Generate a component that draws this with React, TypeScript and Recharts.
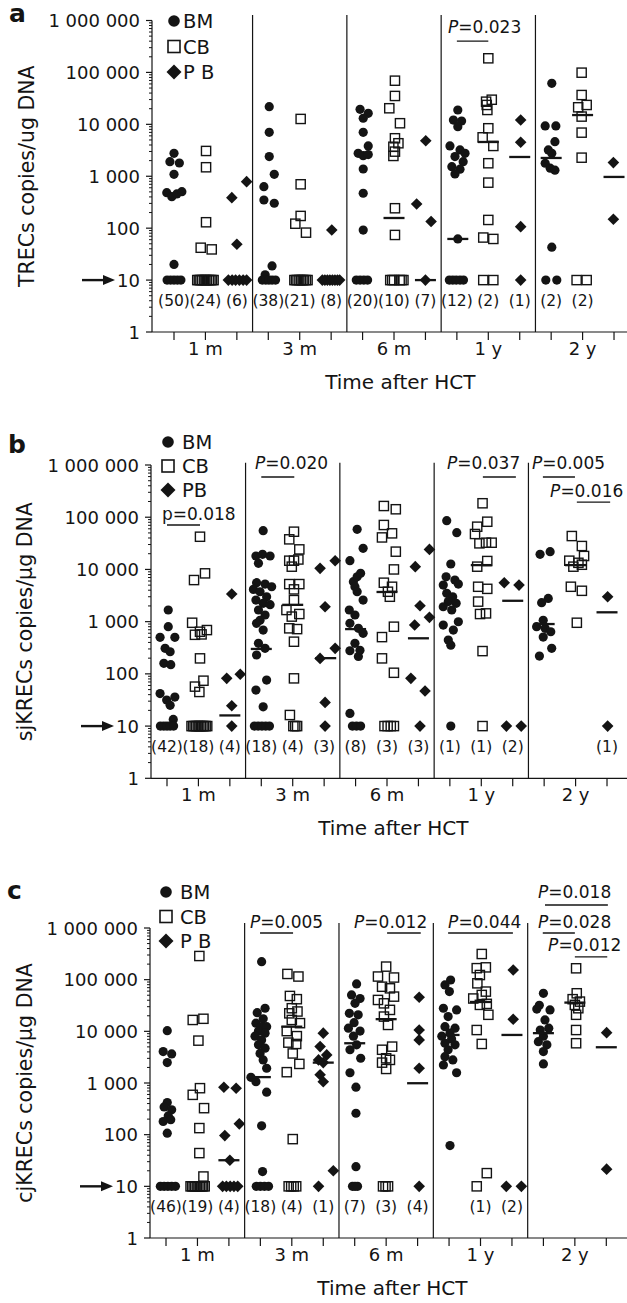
import React from 'react';
import { ScatterChart, Scatter, XAxis, YAxis, ReferenceLine, ReferenceDot, Legend } from 'recharts';

type Pt = [number, number];

const INK = '#141414';
const FONT = '"DejaVu Sans", "Liberation Sans", Arial, sans-serif';

// x is in column units: 0-2 = 1 m (BM, CB, PB), 3-5 = 3 m, 6-8 = 6 m, 9-11 = 1 y, 12-14 = 2 y
const colTicks = [0, 1, 2, 3, 4, 5, 6, 7, 8, 9, 10, 11, 12, 13, 14];
const timeLabels = ['1 m', '3 m', '6 m', '1 y', '2 y'];
const timeLabelCols = [1, 4, 7, 10, 13];
const groupSeparators = [2.5, 5.5, 8.5, 11.5];
const yMajor = [1, 10, 100, 1000, 10000, 100000, 1000000];
const yMajorLabels = ['1', '10', '100', '1 000', '10 000', '100 000', '1 000 000'];
const yMinor = yMajor.slice(0, -1).flatMap(d => [2, 3, 4, 5, 6, 7, 8, 9].map(m => d * m));
const yTicks = [...yMajor, ...yMinor].sort((a, b) => a - b);

// ---------- a: TRECs ----------
const trecBM: Pt[] = [
  [0.0, 2770], [-0.13, 1910], [0.17, 1800], [0.0, 1090], [-0.23, 483], [-0.07, 404], [0.09, 456], [0.25, 505], [0.0, 20],
  [-0.22, 10], [-0.11, 10], [0, 10], [0.11, 10], [0.22, 10],
  [3.03, 21900], [3.03, 7030], [3.03, 2390], [3.19, 1090], [2.86, 630], [2.86, 349], [3.19, 302], [3.12, 18.7], [2.9, 12.6],
  [2.81, 10], [2.92, 10], [3.02, 10], [3.12, 10], [3.23, 10],
  [5.92, 19500], [6.18, 16300], [6.02, 13100], [6.02, 7030], [5.86, 2770], [6.18, 3830], [6.02, 2490], [6.18, 2620], [6.02, 1380], [6.02, 470], [6.02, 92],
  [5.8, 10], [5.92, 10], [6.04, 10], [6.16, 10],
  [9.03, 18900], [8.89, 12100], [9.15, 11600], [9.03, 9020], [8.78, 3830], [9.1, 3210], [9.26, 2770], [8.94, 2390], [9.2, 1910], [8.84, 1530], [9.1, 1370], [8.94, 1110], [9.03, 62],
  [8.76, 10], [8.87, 10], [8.98, 10], [9.1, 10], [9.21, 10],
  [12.02, 61700], [11.81, 9300], [12.15, 9300], [12.12, 4640], [11.91, 3210], [12.02, 2770], [11.81, 1780], [11.97, 1430], [12.12, 1310], [12.02, 43],
  [11.83, 10], [12.18, 10],
];
const trecCB: Pt[] = [
  [1.02, 3070], [1.02, 1490], [1.02, 130], [0.85, 42], [1.2, 39],
  [0.74, 10], [0.79, 10], [0.84, 10], [0.89, 10], [0.95, 10], [1.0, 10], [1.05, 10], [1.11, 10], [1.16, 10], [1.21, 10], [1.26, 10],
  [4.03, 12700], [4.03, 700], [4.03, 172], [3.86, 122], [4.2, 82],
  [3.83, 10], [3.88, 10], [3.93, 10], [3.99, 10], [4.04, 10], [4.09, 10], [4.14, 10], [4.2, 10], [4.25, 10],
  [7.03, 69300], [7.03, 35200], [6.85, 20400], [7.19, 10500], [7.03, 5390], [7.14, 4320], [6.98, 3700], [7.03, 2980], [6.98, 2460], [7.03, 242], [7.03, 74],
  [6.88, 10], [6.94, 10], [7.0, 10], [7.18, 10], [7.24, 10], [7.3, 10],
  [10.0, 187000], [9.93, 27300], [10.11, 29800], [9.95, 23600], [9.97, 18900], [10.0, 8400], [9.82, 5620], [10.16, 3830], [10.0, 1780], [10.0, 753], [10.0, 144], [9.84, 66], [10.16, 62],
  [9.84, 10], [10.16, 10],
  [12.97, 98900], [12.97, 36700], [12.86, 21300], [13.13, 23600], [12.97, 14100], [12.97, 6920], [12.97, 2280],
  [12.81, 10], [13.13, 10],
];
const trecPB: Pt[] = [
  [1.84, 387], [2.31, 787], [2.0, 49],
  [1.73, 10], [1.85, 10], [1.96, 10], [2.08, 10], [2.2, 10], [2.31, 10],
  [5.02, 92],
  [4.72, 10], [4.8, 10], [4.88, 10], [4.96, 10], [5.04, 10], [5.12, 10], [5.2, 10], [5.27, 10],
  [8.01, 4840], [7.72, 293], [8.18, 134], [8.0, 10],
  [11.03, 12100], [11.03, 4520], [11.03, 107], [11.03, 10],
  [13.98, 1830], [13.98, 149],
];
const trecMedians: Pt[] = [[9.03, 62], [12, 2250], [7, 157], [10, 4570], [13, 15100], [8, 10], [11, 2350], [14, 970]];
const trecCounts = ['(50)', '(24)', '(6)', '(38)', '(21)', '(8)', '(20)', '(10)', '(7)', '(12)', '(2)', '(1)', '(2)', '(2)', ''];
const trecP = [{ label: 'P=0.023', x1: 9, x2: 10, lineY: 400000, tx: 8.72, ty: 570000 }];

// ---------- b: sjKRECs ----------
const sjBM: Pt[] = [
  [0.04, 1670], [0.04, 800], [-0.22, 500], [0.25, 500], [-0.06, 308], [0.1, 265], [-0.1, 159], [0.12, 150], [-0.22, 42], [-0.01, 31.5], [0.25, 36], [0.1, 25], [0.2, 13.4],
  [-0.21, 10], [-0.1, 10], [0, 10], [0.1, 10], [0.21, 10],
  [3.06, 55200], [2.83, 18100], [3.04, 19500], [3.28, 18100], [2.91, 13100], [2.85, 5570], [3.12, 5240], [2.75, 4150], [3.33, 4660], [2.96, 3740], [3.17, 3000], [2.83, 2590],
  [3.06, 2240], [3.28, 2110], [2.91, 1670], [3.12, 1340], [2.96, 1060], [2.85, 927], [3.06, 690], [2.91, 384], [3.12, 308], [2.85, 230], [3.17, 76], [2.83, 49], [3.06, 23.4],
  [2.78, 10], [2.9, 10], [3.02, 10], [3.14, 10], [3.26, 10],
  [6.05, 58700], [6.24, 25400], [5.82, 14700], [5.93, 5820], [6.05, 7220], [5.98, 4660], [6.16, 8410], [6.05, 3740], [6.24, 2590], [5.8, 1670], [5.98, 1340], [5.82, 927],
  [6.09, 745], [6.24, 597], [5.98, 384], [5.82, 277], [6.09, 215], [6.14, 283], [5.82, 17.5],
  [5.9, 10], [6.03, 10], [6.16, 10],
  [8.9, 85700], [9.22, 50500], [9.03, 12700], [8.88, 7220], [9.16, 6260], [8.79, 5010], [9.27, 5240], [8.9, 3480], [9.09, 3000], [8.95, 2420], [9.2, 2240], [8.79, 1930],
  [9.06, 1670], [9.27, 995], [8.79, 861], [9.11, 690], [8.95, 444], [9.03, 355], [9.03, 10],
  [11.87, 19500], [12.19, 21900], [12.13, 2790], [11.92, 2310], [11.97, 1060], [11.76, 800], [12.03, 745], [12.21, 641], [11.97, 506], [12.24, 308], [11.85, 219],
];
const sjCB: Pt[] = [
  [1.05, 42300], [0.86, 6260], [1.21, 8410], [0.8, 953], [1.05, 641], [1.27, 690], [0.89, 560], [1.1, 570], [1.05, 198], [1.16, 74], [0.89, 57], [1.03, 45],
  [0.78, 10], [0.83, 10], [0.88, 10], [0.93, 10], [0.98, 10], [1.03, 10], [1.08, 10], [1.13, 10], [1.18, 10], [1.23, 10], [1.28, 10],
  [4.04, 52800], [3.89, 37700], [4.21, 24200], [3.89, 14700], [4.04, 14700], [4.18, 15500], [3.97, 11300], [3.89, 5240], [4.21, 5240], [4.04, 4150], [4.04, 2590],
  [3.8, 1670], [4.21, 1400], [3.97, 1250], [3.89, 745], [4.14, 720], [4.04, 413], [4.04, 82], [3.91, 16.3],
  [4.02, 10], [4.08, 10], [4.14, 10],
  [6.9, 164000], [7.28, 142000], [6.9, 71000], [7.16, 49100], [6.84, 41000], [7.28, 21900], [7.22, 10000], [6.9, 5570], [7.16, 4660], [7.03, 3740], [7.09, 3000],
  [7.22, 800], [6.84, 506], [6.84, 198], [7.22, 105],
  [6.92, 10], [7.02, 10], [7.12, 10], [7.22, 10],
  [10.04, 185000], [10.19, 82000], [9.87, 65800], [9.8, 47700], [9.94, 31600], [10.15, 32500], [10.33, 32500], [10.19, 14500], [9.87, 11300], [9.9, 4660], [10.19, 4250],
  [9.9, 2420], [9.96, 1400], [10.15, 1440], [10.04, 273], [10.04, 10],
  [12.88, 43600], [13.2, 28100], [13.27, 18100], [12.8, 14700], [13.09, 13400], [12.93, 11300], [13.2, 12300], [12.85, 4660], [13.2, 3900], [13.04, 953],
];
const sjPB: Pt[] = [
  [2.06, 3380], [2.33, 98], [1.9, 82], [2.06, 24.5], [2.06, 10],
  [4.87, 10500], [5.35, 14700], [5.03, 1930], [5.35, 308], [4.87, 198], [5.03, 28.4], [5.03, 10],
  [8.35, 24200], [7.9, 11300], [8.05, 2020], [8.35, 1210], [7.88, 861], [7.76, 82], [8.21, 47], [8.05, 10],
  [10.73, 5570], [11.2, 5010], [10.8, 10], [11.27, 10],
  [14.02, 3000], [14.02, 10],
];
const sjMedians: Pt[] = [
  [3, 300], [6, 720], [12, 900], [4, 2100], [7, 3700], [10, 12100], [13, 12100],
  [2, 16], [5.05, 200], [8, 480], [11, 2510], [14, 1510],
];
const sjCounts = ['(42)', '(18)', '(4)', '(18)', '(4)', '(3)', '(8)', '(3)', '(3)', '(1)', '(1)', '(2)', '', '', '(1)'];
const sjP = [
  { label: 'p=0.018', x1: 0, x2: 1.05, lineY: 71000, tx: -0.16, ty: 88300 },
  { label: 'P=0.020', x1: 3, x2: 4.05, lineY: 589000, tx: 2.8, ty: 838000 },
  { label: 'P=0.037', x1: 10.05, x2: 11.1, lineY: 589000, tx: 8.91, ty: 838000 },
  { label: 'P=0.005', x1: 11.96, x2: 12.98, lineY: 589000, tx: 11.61, ty: 838000 },
  { label: 'P=0.016', x1: 13.04, x2: 14.1, lineY: 195000, tx: 12.19, ty: 244000 },
];

// ---------- c: cjKRECs ----------
const cjBM: Pt[] = [
  [0.04, 10300], [-0.09, 4050], [0.18, 3650], [0.04, 2480], [0.04, 418], [-0.06, 345], [0.18, 302], [0.07, 231], [-0.09, 180], [0.15, 195], [0.04, 107],
  [-0.18, 10], [-0.06, 10], [0.06, 10], [0.18, 10], [0.3, 10],
  [3.04, 223000], [3.15, 28000], [2.9, 23000], [3.09, 17500], [2.86, 14400], [3.04, 12300], [3.2, 12300], [2.94, 10100], [3.15, 9220], [2.83, 8070], [3.04, 6820],
  [2.94, 5470], [3.15, 4730], [2.99, 3730], [3.09, 2800], [3.2, 1930], [2.7, 1290], [2.86, 1060], [3.2, 664], [3.04, 148], [3.07, 19.3],
  [2.87, 10], [3.0, 10], [3.13, 10], [3.26, 10],
  [6.06, 82600], [5.9, 50600], [6.17, 43200], [6.01, 34800], [5.83, 22300], [6.11, 20900], [5.98, 14700], [5.8, 11500], [6.17, 10100], [5.96, 8070], [6.06, 5470],
  [5.85, 4400], [6.19, 3010], [5.85, 1580], [6.04, 830], [6.04, 260], [6.04, 24],
  [5.93, 10], [6.01, 10], [6.09, 10],
  [9.05, 98600], [8.87, 79000], [9.01, 58800], [8.82, 28000], [9.24, 26000], [8.97, 19300], [8.87, 12300], [9.19, 11500], [9.03, 9260], [8.77, 8070], [9.08, 7100],
  [8.87, 5880], [9.19, 5470], [8.97, 4400], [8.87, 3230], [9.12, 2800], [8.82, 2230], [9.24, 1580], [9.03, 61.5],
  [12.0, 54500], [11.87, 32000], [12.21, 26000], [11.79, 27000], [12.05, 16600], [11.9, 10600], [12.17, 11500], [12.0, 8070], [11.84, 6320], [12.11, 5470], [12.0, 4050], [12.0, 2340],
];
const cjCB: Pt[] = [
  [1.06, 287000], [0.85, 16600], [1.19, 17500], [1.03, 6610], [1.08, 794], [0.85, 590], [1.21, 326], [1.06, 134], [1.06, 44], [1.19, 15.5],
  [0.78, 10], [0.83, 10], [0.88, 10], [0.93, 10], [0.98, 10], [1.03, 10], [1.08, 10], [1.13, 10], [1.18, 10], [1.23, 10],
  [3.86, 129000], [4.21, 115000], [3.94, 48400], [4.16, 41900], [4.0, 28000], [3.92, 22300], [4.18, 24200], [4.0, 16600], [4.26, 14400], [3.84, 10100], [4.16, 8070],
  [3.89, 6050], [4.14, 5700], [4.03, 3730], [4.24, 2340], [3.84, 1620], [4.03, 82],
  [3.9, 10], [3.98, 10], [4.06, 10], [4.14, 10],
  [7.0, 179000], [6.74, 115000], [7.25, 110000], [6.87, 73000], [7.12, 68000], [6.74, 40500], [7.25, 47000], [6.93, 34800], [7.12, 26000], [6.93, 19300], [7.06, 13300],
  [6.87, 4400], [7.19, 5060], [7.0, 3010], [6.87, 2480], [7.12, 2800], [7.0, 1870],
  [6.9, 10], [6.98, 10], [7.06, 10],
  [10.04, 314000], [9.88, 167000], [10.17, 173000], [9.98, 123000], [9.9, 85000], [10.17, 58800], [9.77, 43200], [10.04, 50600], [9.98, 32500], [10.2, 34000],
  [10.25, 20900], [9.88, 10600], [10.04, 5700], [10.2, 18], [9.88, 10],
  [13.04, 166000], [13.06, 54500], [12.93, 41900], [13.16, 37600], [13.0, 32500], [13.11, 28000], [13.04, 20900], [13.04, 10600], [13.04, 5880],
];
const cjPB: Pt[] = [
  [1.84, 830], [2.23, 790], [2.33, 162], [1.87, 96], [2.03, 32],
  [1.8, 10], [1.92, 10], [2.04, 10], [2.16, 10], [2.28, 10],
  [5.0, 9220], [4.9, 5060], [5.11, 3500], [4.85, 2800], [5.0, 2480], [4.9, 1440], [5.0, 1060], [5.32, 20], [4.85, 10],
  [8.05, 45600], [8.05, 10600], [8.05, 6820], [8.05, 1930], [8.05, 10],
  [11.04, 154000], [11.04, 17100], [10.82, 10], [11.3, 10],
  [14.01, 9440], [14.01, 21.5],
];
const cjMedians: Pt[] = [
  [3, 1300], [6, 5880], [9, 8510], [12, 9220], [4, 12300], [7, 17200], [10, 37000], [13, 36000],
  [2, 32], [5, 2480], [8, 990], [11, 8510], [14, 4920],
];
const cjCounts = ['(46)', '(19)', '(4)', '(18)', '(4)', '(1)', '(7)', '(3)', '(4)', '', '(1)', '(2)', '', '', ''];
const cjP = [
  { label: 'P=0.005', x1: 2.99, x2: 4.04, lineY: 800000, tx: 2.67, ty: 1000000 },
  { label: 'P=0.012', x1: 7.03, x2: 8.1, lineY: 800000, tx: 5.98, ty: 1000000 },
  { label: 'P=0.044', x1: 8.97, x2: 11.03, lineY: 800000, tx: 8.97, ty: 1000000 },
  { label: 'P=0.018', x1: 12.05, x2: 14.05, lineY: 2790000, tx: 11.83, ty: 3800000 },
  { label: 'P=0.028', x1: 11.98, x2: 13.0, lineY: 800000, tx: 11.83, ty: 1000000 },
  { label: 'P=0.012', x1: 13.0, x2: 14.03, lineY: 275000, tx: 12.15, ty: 359000 },
];

const COUNT_Y = 4;
const AXIS_H = 60;

const panels = [
  {
    letter: 'a', title: 'TRECs copies/ug DNA', legendLabels: ['BM', 'CB', 'P B'],
    bm: trecBM, cb: trecCB, pb: trecPB, medians: trecMedians, counts: trecCounts, pvals: trecP,
    geo: {
      top: 0, height: 420, margin: { top: 20.5, right: 0, bottom: 28, left: 0 }, yWidth: 152,
      xDomain: [-0.7, 14.413], sepTop: 1280000, titleX: 27,
      legend: { left: 163, top: 10, gap: 25.5, textX: 20 }, letterPos: [9, 22],
    },
  },
  {
    letter: 'b', title: 'sjKRECs copies/µg DNA', legendLabels: ['BM', 'CB', 'PB'],
    bm: sjBM, cb: sjCB, pb: sjPB, medians: sjMedians, counts: sjCounts, pvals: sjP,
    geo: {
      top: 420, height: 440, margin: { top: 45, right: 0, bottom: 21.7, left: 0 }, yWidth: 151,
      xDomain: [-0.509, 14.636], sepTop: 1100000, titleX: 25,
      legend: { left: 157, top: 11, gap: 24, textX: 25 }, letterPos: [8, 33],
    },
  },
  {
    letter: 'c', title: 'cjKRECs copies/µg DNA', legendLabels: ['BM', 'CB', 'P B'],
    bm: cjBM, cb: cjCB, pb: cjPB, medians: cjMedians, counts: cjCounts, pvals: cjP,
    geo: {
      top: 860, height: 443, margin: { top: 68, right: 0, bottom: 5, left: 0 }, yWidth: 150,
      xDomain: [-0.509, 14.658], sepTop: 1250000, titleX: 25,
      legend: { left: 155, top: 21, gap: 24.5, textX: 25 }, letterPos: [7, 39],
    },
  },
];

const toXY = (pts: Pt[]) => pts.map(([x, y]) => ({ x, y }));

const Dot = (p: any) => <circle cx={p.cx} cy={p.cy} r={4.6} fill={INK} />;
const Box = (p: any) => (
  <rect x={p.cx - 4.6} y={p.cy - 4.6} width={9.2} height={9.2} fill="none" stroke={INK} strokeWidth={1.4} />
);
const diamondPts = (cx: number, cy: number, r: number) => `${cx},${cy - r} ${cx + r},${cy} ${cx},${cy + r} ${cx - r},${cy}`;
const Diamond = (p: any) => <polygon points={diamondPts(p.cx, p.cy, 5.8)} fill={INK} />;
const MedianBar = (p: any) => (
  <line x1={p.cx - 10.5} x2={p.cx + 10.5} y1={p.cy} y2={p.cy} stroke={INK} strokeWidth={2.3} />
);
const CountText = (p: any) => (
  <text x={p.cx} y={p.cy + 5.5} textAnchor="middle" fontSize={15.5} fill={INK} fontFamily={FONT}>
    {p.payload?.label ?? p.label}
  </text>
);

const PText = ({ cx, cy, text }: { cx: number; cy: number; text: string }) => (
  <text x={cx} y={cy} fontSize={17} fill={INK} fontFamily={FONT}>
    {text[0] === 'P' ? (
      <>
        <tspan fontStyle="italic">P</tspan>
        {text.slice(1)}
      </>
    ) : (
      text
    )}
  </text>
);

const YTick = (p: any) => {
  const v = p.payload.value;
  const x = p.x;
  const y = p.y;
  const mi = yMajor.indexOf(v);
  if (mi < 0) return <line x1={x - 3} x2={x} y1={y} y2={y} stroke={INK} strokeWidth={1} />;
  return (
    <g>
      <line x1={x - 6} x2={x} y1={y} y2={y} stroke={INK} strokeWidth={1.2} />
      <text x={x - 12} y={y + 6.5} textAnchor="end" fontSize={18} fill={INK} fontFamily={FONT}>
        {yMajorLabels[mi]}
      </text>
      {v === 10 && (
        <g>
          <line x1={x - 70} x2={x - 47} y1={y} y2={y} stroke={INK} strokeWidth={2.4} />
          <polygon points={`${x - 37},${y} ${x - 49},${y - 5} ${x - 49},${y + 5}`} fill={INK} />
        </g>
      )}
    </g>
  );
};

const XTick = (p: any) => {
  const i = timeLabelCols.indexOf(p.payload.value);
  if (i < 0) return <g />;
  return (
    <text x={p.x} y={p.y + 15} textAnchor="middle" fontSize={18} fill={INK} fontFamily={FONT}>
      {timeLabels[i]}
    </text>
  );
};

const LegendBox = ({ labels, gap, textX }: { labels: string[]; gap: number; textX: number }) => (
  <svg width={80} height={gap * 2 + 24} style={{ display: 'block', overflow: 'visible' }}>
    {labels.map((t, i) => {
      const cy = 11 + i * gap;
      const cx = 11;
      const marker =
        i === 0 ? (
          <circle cx={cx} cy={cy} r={5.8} fill={INK} />
        ) : i === 1 ? (
          <rect x={cx - 6} y={cy - 6} width={12} height={12} fill="none" stroke={INK} strokeWidth={1.6} />
        ) : (
          <polygon points={diamondPts(cx, cy, 7.5)} fill={INK} />
        );
      return (
        <g key={t}>
          {marker}
          <text x={textX} y={cy + 7} fontSize={19.5} fill={INK} fontFamily={FONT}>
            {t}
          </text>
        </g>
      );
    })}
  </svg>
);

function Panel({ cfg }: { cfg: (typeof panels)[number] }) {
  const { geo } = cfg;
  const plotH = geo.height - geo.margin.top - geo.margin.bottom - AXIS_H;
  const plotW = 627 - geo.yWidth - geo.margin.right;
  const [d0, d1] = geo.xDomain;
  const countData = cfg.counts
    .map((label, i) => ({ x: i, y: COUNT_Y, label }))
    .filter(d => d.label !== '');

  return (
    <div style={{ position: 'absolute', left: 0, top: geo.top, width: 627, height: geo.height }}>
      <svg width={40} height={50} style={{ position: 'absolute', left: 0, top: 0 }}>
        <text x={geo.letterPos[0]} y={geo.letterPos[1]} fontSize={25} fontWeight="bold" fill={INK} fontFamily={FONT}>
          {cfg.letter}
        </text>
      </svg>
      <ScatterChart width={627} height={geo.height} margin={geo.margin} style={{ fontFamily: FONT }}>
        <XAxis
          type="number"
          dataKey="x"
          domain={geo.xDomain}
          ticks={colTicks}
          interval={0}
          height={AXIS_H}
          tickSize={8}
          tickMargin={0}
          tick={XTick}
          axisLine={{ stroke: INK, strokeWidth: 1.2 }}
          tickLine={{ stroke: INK, strokeWidth: 1.2 }}
          label={() => {
            const cx = geo.yWidth + ((7.2 - d0) / (d1 - d0)) * plotW;
            const y = geo.margin.top + plotH + 57;
            return (
              <text x={cx} y={y} textAnchor="middle" fontSize={20} fill={INK} fontFamily={FONT}>
                Time after HCT
              </text>
            );
          }}
        />
        <YAxis
          type="number"
          dataKey="y"
          scale="log"
          domain={[1, 1000000]}
          ticks={yTicks}
          interval={0}
          width={geo.yWidth}
          tickSize={0}
          tickMargin={0}
          tickLine={false}
          tick={YTick}
          axisLine={{ stroke: INK, strokeWidth: 1.2 }}
          label={() => {
            const cx = geo.titleX;
            const cy = geo.margin.top + plotH / 2;
            return (
              <text
                x={cx}
                y={cy}
                transform={`rotate(-90 ${cx} ${cy})`}
                textAnchor="middle"
                dominantBaseline="central"
                fontSize={20.5}
                fill={INK}
                fontFamily={FONT}
              >
                {cfg.title}
              </text>
            );
          }}
        />
        {groupSeparators.map(c => (
          <ReferenceLine
            key={`sep-${c}`}
            segment={[{ x: c, y: 1 }, { x: c, y: geo.sepTop }]}
            stroke={INK}
            strokeWidth={1.2}
            ifOverflow="visible"
          />
        ))}
        {cfg.pvals.map((a, i) => (
          <ReferenceLine
            key={`pl-${i}`}
            segment={[{ x: a.x1, y: a.lineY }, { x: a.x2, y: a.lineY }]}
            stroke={INK}
            strokeWidth={1.3}
            ifOverflow="visible"
          />
        ))}
        {cfg.pvals.map((a, i) => (
          <ReferenceDot
            key={`pt-${i}`}
            x={a.tx}
            y={a.ty}
            r={0}
            ifOverflow="visible"
            shape={(p: any) => <PText cx={p.cx} cy={p.cy} text={a.label} />}
          />
        ))}
        <Legend
          layout="vertical"
          align="center"
          verticalAlign="middle"
          wrapperStyle={{ position: 'absolute', left: geo.legend.left, top: geo.legend.top, width: 80, height: 90 }}
          content={() => <LegendBox labels={cfg.legendLabels} gap={geo.legend.gap} textX={geo.legend.textX} />}
        />
        <Scatter name="BM" data={toXY(cfg.bm)} shape={Dot} legendType="circle" isAnimationActive={false} />
        <Scatter name="CB" data={toXY(cfg.cb)} shape={Box} legendType="square" isAnimationActive={false} />
        <Scatter name="PB" data={toXY(cfg.pb)} shape={Diamond} legendType="diamond" isAnimationActive={false} />
        <Scatter name="median" data={toXY(cfg.medians)} shape={MedianBar} legendType="none" isAnimationActive={false} />
        <Scatter name="n" data={countData} shape={CountText} legendType="none" isAnimationActive={false} />
      </ScatterChart>
    </div>
  );
}

export default function App() {
  return (
    <div style={{ position: 'absolute', left: 0, top: 0, width: 627, height: 1303, background: '#fff', fontFamily: FONT }}>
      {panels.map(cfg => (
        <Panel key={cfg.letter} cfg={cfg} />
      ))}
    </div>
  );
}
